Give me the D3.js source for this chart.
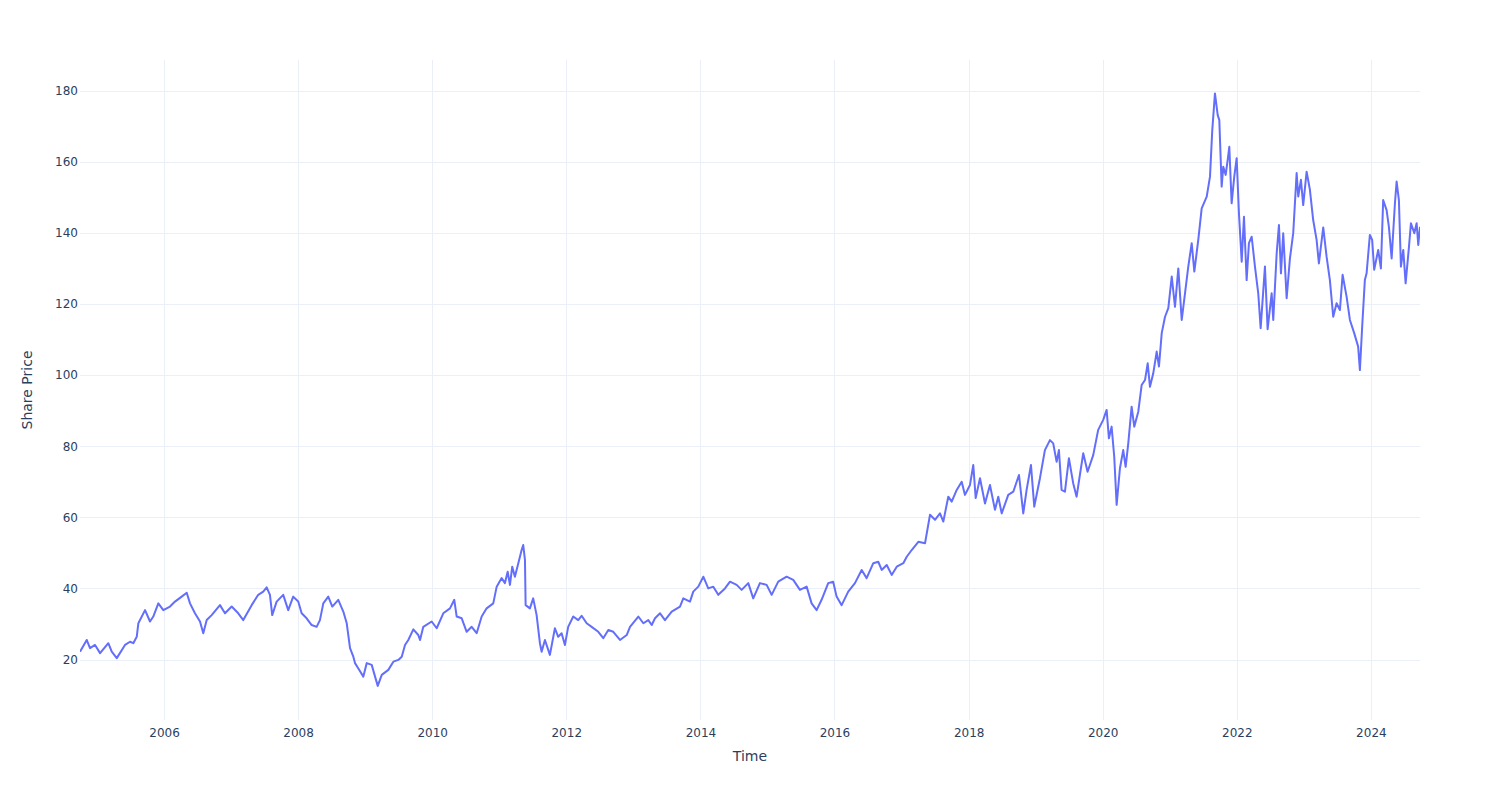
<!DOCTYPE html>
<html>
<head>
<meta charset="utf-8">
<script src="https://cdn.jsdelivr.net/npm/d3@7"></script>
<style>
  html, body { margin: 0; padding: 0; background: #fff; }
  svg { display: block; }
</style>
</head>
<body>
<svg id="chart" width="1500" height="800"></svg>
<script>
// Time stored as decimal years, price in share-price units
const years = [
  2004.747, 2004.847, 2004.896, 2004.971, 2005.046, 2005.169, 2005.220, 2005.295, 2005.418, 2005.493,
  2005.542, 2005.593, 2005.617, 2005.717, 2005.791, 2005.840, 2005.915, 2005.990, 2006.089, 2006.164,
  2006.264, 2006.339, 2006.388, 2006.462, 2006.537, 2006.586, 2006.637, 2006.711, 2006.835, 2006.910,
  2007.010, 2007.108, 2007.183, 2007.308, 2007.406, 2007.481, 2007.532, 2007.581, 2007.615, 2007.681,
  2007.779, 2007.854, 2007.928, 2008.003, 2008.054, 2008.128, 2008.203, 2008.277, 2008.326, 2008.376,
  2008.450, 2008.510, 2008.599, 2008.674, 2008.725, 2008.774, 2008.823, 2008.848, 2008.898, 2008.972,
  2009.023, 2009.097, 2009.147, 2009.187, 2009.247, 2009.345, 2009.420, 2009.494, 2009.545, 2009.594,
  2009.643, 2009.718, 2009.792, 2009.818, 2009.867, 2009.992, 2010.067, 2010.165, 2010.265, 2010.329,
  2010.365, 2010.440, 2010.514, 2010.589, 2010.663, 2010.738, 2010.812, 2010.911, 2010.962, 2011.036,
  2011.085, 2011.126, 2011.160, 2011.194, 2011.234, 2011.309, 2011.334, 2011.358, 2011.384, 2011.394,
  2011.458, 2011.507, 2011.558, 2011.607, 2011.633, 2011.682, 2011.756, 2011.831, 2011.880, 2011.931,
  2011.980, 2012.029, 2012.104, 2012.178, 2012.229, 2012.304, 2012.378, 2012.477, 2012.551, 2012.626,
  2012.700, 2012.800, 2012.900, 2012.949, 2013.073, 2013.148, 2013.222, 2013.273, 2013.322, 2013.397,
  2013.471, 2013.571, 2013.695, 2013.744, 2013.844, 2013.893, 2013.968, 2014.043, 2014.117, 2014.192,
  2014.266, 2014.366, 2014.441, 2014.541, 2014.615, 2014.714, 2014.788, 2014.888, 2014.988, 2015.063,
  2015.161, 2015.286, 2015.385, 2015.485, 2015.585, 2015.659, 2015.734, 2015.808, 2015.907, 2015.981,
  2016.032, 2016.107, 2016.205, 2016.305, 2016.405, 2016.479, 2016.578, 2016.652, 2016.703, 2016.778,
  2016.852, 2016.927, 2017.025, 2017.076, 2017.150, 2017.249, 2017.349, 2017.423, 2017.498, 2017.572,
  2017.622, 2017.696, 2017.747, 2017.822, 2017.896, 2017.945, 2018.020, 2018.069, 2018.105, 2018.169,
  2018.244, 2018.318, 2018.393, 2018.442, 2018.493, 2018.591, 2018.666, 2018.751, 2018.815, 2018.865,
  2018.930, 2018.979, 2019.064, 2019.138, 2019.213, 2019.262, 2019.313, 2019.347, 2019.387, 2019.437,
  2019.496, 2019.560, 2019.611, 2019.660, 2019.710, 2019.775, 2019.859, 2019.933, 2020.008, 2020.059,
  2020.093, 2020.133, 2020.172, 2020.208, 2020.257, 2020.306, 2020.342, 2020.381, 2020.431, 2020.470,
  2020.530, 2020.580, 2020.630, 2020.670, 2020.704, 2020.753, 2020.804, 2020.838, 2020.879, 2020.928,
  2020.977, 2021.028, 2021.077, 2021.126, 2021.177, 2021.226, 2021.275, 2021.326, 2021.365, 2021.424,
  2021.475, 2021.550, 2021.599, 2021.633, 2021.673, 2021.714, 2021.738, 2021.773, 2021.797, 2021.833,
  2021.863, 2021.887, 2021.922, 2021.961, 2021.997, 2022.031, 2022.072, 2022.106, 2022.146, 2022.180,
  2022.221, 2022.270, 2022.319, 2022.355, 2022.419, 2022.459, 2022.519, 2022.543, 2022.594, 2022.628,
  2022.658, 2022.692, 2022.743, 2022.792, 2022.841, 2022.892, 2022.916, 2022.956, 2022.990, 2023.041,
  2023.090, 2023.139, 2023.190, 2023.224, 2023.289, 2023.339, 2023.388, 2023.438, 2023.488, 2023.538,
  2023.578, 2023.638, 2023.687, 2023.751, 2023.810, 2023.836, 2023.870, 2023.910, 2023.936, 2023.985,
  2024.019, 2024.049, 2024.109, 2024.149, 2024.183, 2024.234, 2024.268, 2024.309, 2024.358, 2024.383,
  2024.417, 2024.447, 2024.482, 2024.517, 2024.567, 2024.596, 2024.646, 2024.681, 2024.705, 2024.731
];
const prices = [
  22.2, 25.5, 23.2, 24.1, 21.8, 24.6, 22.2, 20.4, 24.1, 25.0,
  24.6, 26.4, 30.2, 33.9, 30.7, 32.1, 35.8, 33.9, 34.9, 36.3,
  37.7, 38.8, 35.8, 33.0, 30.7, 27.4, 31.1, 32.5, 35.3, 33.0,
  34.9, 33.0, 31.1, 35.3, 38.2, 39.1, 40.3, 38.2, 32.5, 36.3,
  38.2, 33.9, 37.7, 36.3, 33.0, 31.6, 29.7, 29.2, 31.1, 35.8,
  37.7, 34.9, 36.8, 33.5, 30.2, 23.2, 20.8, 19.0, 17.5, 15.2,
  19.0, 18.5, 15.2, 12.6, 15.7, 17.1, 19.4, 19.9, 20.8, 24.1,
  25.5, 28.5, 26.9, 25.5, 29.2, 30.7, 28.8, 33.0, 34.4, 36.8,
  32.1, 31.6, 27.8, 29.2, 27.4, 32.1, 34.4, 35.8, 40.5, 42.9,
  41.5, 44.7, 41.0, 46.1, 43.3, 48.9, 50.8, 52.2, 48.0, 35.3,
  34.4, 37.2, 32.5, 24.6, 22.2, 25.5, 21.3, 28.8, 26.4, 27.4,
  24.1, 29.2, 32.1, 31.1, 32.3, 30.2, 29.2, 27.8, 26.0, 28.3,
  27.8, 25.5, 26.9, 29.2, 32.1, 30.2, 31.1, 29.7, 31.6, 33.0,
  31.1, 33.5, 34.9, 37.2, 36.3, 39.1, 40.5, 43.3, 40.0, 40.5,
  38.2, 40.0, 41.9, 41.0, 39.6, 41.5, 37.2, 41.5, 41.0, 38.2,
  41.9, 43.3, 42.4, 39.6, 40.5, 35.8, 33.9, 36.8, 41.5, 41.9,
  37.7, 35.3, 39.1, 41.5, 45.2, 42.9, 47.1, 47.5, 45.2, 46.6,
  43.8, 46.1, 47.1, 48.9, 50.8, 53.1, 52.7, 60.7, 59.3, 61.1,
  58.8, 65.8, 64.4, 67.7, 70.0, 66.3, 69.1, 74.7, 65.4, 71.0,
  63.9, 69.1, 62.1, 65.8, 61.1, 66.3, 67.2, 71.9, 61.1, 67.7,
  74.7, 63.0, 71.0, 78.9, 81.7, 80.8, 75.6, 78.9, 67.7, 67.2,
  76.6, 69.6, 65.8, 71.9, 78.0, 72.8, 77.5, 84.6, 87.4, 90.2,
  82.2, 85.5, 77.1, 63.5, 73.8, 78.9, 74.2, 80.8, 91.1, 85.5,
  89.7, 97.2, 98.6, 103.3, 96.7, 100.5, 106.6, 102.4, 111.8, 116.4,
  118.8, 127.7, 119.2, 130.0, 115.5, 123.0, 130.5, 137.1, 129.1, 138.0,
  146.9, 150.2, 155.8, 168.9, 179.2, 173.1, 171.7, 153.0, 158.6, 156.3,
  160.5, 164.2, 148.3, 155.8, 161.0, 145.5, 131.9, 144.5, 126.7, 137.1,
  138.9, 130.5, 123.0, 113.2, 130.5, 112.9, 123.0, 115.5, 134.2, 142.2,
  128.6, 139.9, 121.6, 132.8, 139.9, 156.8, 150.2, 154.9, 147.8, 157.2,
  152.1, 143.6, 138.0, 131.4, 141.5, 133.3, 126.7, 116.4, 120.2, 118.3,
  128.2, 122.0, 115.5, 111.8, 108.0, 101.4, 113.6, 126.7, 128.6, 139.4,
  138.0, 129.6, 135.2, 130.0, 149.2, 146.4, 141.7, 132.8, 148.3, 154.4,
  149.2, 130.5, 135.2, 125.8, 136.1, 142.7, 139.9, 142.7, 136.6, 141.7
];
const yTicks = [20, 40, 60, 80, 100, 120, 140, 160, 180];
const xTickYears = [2006, 2008, 2010, 2012, 2014, 2016, 2018, 2020, 2022, 2024];
const xTitle = "Time";
const yTitle = "Share Price";

function yearToDate(y) {
  const yr = Math.floor(y);
  const start = Date.UTC(yr, 0, 1), end = Date.UTC(yr + 1, 0, 1);
  return new Date(start + (y - yr) * (end - start));
}

const data = years.map((y, i) => ({ t: yearToDate(y), v: prices[i] }));

const W = 1500, H = 800;
const m = { l: 80, r: 80, t: 60, b: 80 };
const svg = d3.select("#chart");
const font = '"DejaVu Sans", Verdana, sans-serif';

const x = d3.scaleUtc()
  .domain([yearToDate(years[0]), yearToDate(years[years.length - 1])])
  .range([m.l, W - m.r]);
const y = d3.scaleLinear().domain([3.0, 188.6]).range([H - m.b, m.t]);

// gridlines
const grid = svg.append("g");
grid.selectAll("line.vx").data(xTickYears).enter().append("line")
  .attr("x1", d => Math.round(x(Date.UTC(d, 0, 1))) + 0.5)
  .attr("x2", d => Math.round(x(Date.UTC(d, 0, 1))) + 0.5)
  .attr("y1", m.t).attr("y2", H - m.b)
  .attr("stroke", "#EBF0F8").attr("stroke-width", 1);
grid.selectAll("line.hy").data(yTicks).enter().append("line")
  .attr("x1", m.l).attr("x2", W - m.r)
  .attr("y1", d => Math.round(y(d)) + 0.5)
  .attr("y2", d => Math.round(y(d)) + 0.5)
  .attr("stroke", "#EBF0F8").attr("stroke-width", 1);

// axes (labels only, plotly style)
const xAxis = d3.axisBottom(x)
  .tickValues(xTickYears.map(d => new Date(Date.UTC(d, 0, 1))))
  .tickFormat(d3.utcFormat("%Y")).tickSize(0).tickPadding(8);
const gx = svg.append("g").attr("transform", `translate(0,${H - m.b})`).call(xAxis);
gx.select(".domain").remove();
gx.selectAll("text").attr("fill", "#2a3f5f").style("font-family", font).style("font-size", "12px");

const yAxis = d3.axisLeft(y).tickValues(yTicks).tickSize(0).tickPadding(2);
const gy = svg.append("g").attr("transform", `translate(${m.l},0)`).call(yAxis);
gy.select(".domain").remove();
gy.selectAll("text").attr("fill", "#2a3f5f").style("font-family", font).style("font-size", "12px");

// line
const clipId = "plotclip";
svg.append("clipPath").attr("id", clipId).append("rect")
  .attr("x", m.l).attr("y", m.t).attr("width", W - m.l - m.r).attr("height", H - m.t - m.b);
svg.append("path").datum(data)
  .attr("clip-path", `url(#${clipId})`)
  .attr("fill", "none").attr("stroke", "#636efa").attr("stroke-width", 2)
  .attr("stroke-linejoin", "round")
  .attr("d", d3.line().x(d => x(d.t)).y(d => y(d.v)));

// titles
svg.append("text").attr("x", (m.l + W - m.r) / 2).attr("y", 761)
  .attr("text-anchor", "middle").attr("fill", "#2a3f5f")
  .style("font-family", font).style("font-size", "14px").text(xTitle);
svg.append("text").attr("transform", `translate(32,${(m.t + H - m.b) / 2}) rotate(-90)`)
  .attr("text-anchor", "middle").attr("fill", "#2a3f5f")
  .style("font-family", font).style("font-size", "14px").text(yTitle);
</script>
</body>
</html>
